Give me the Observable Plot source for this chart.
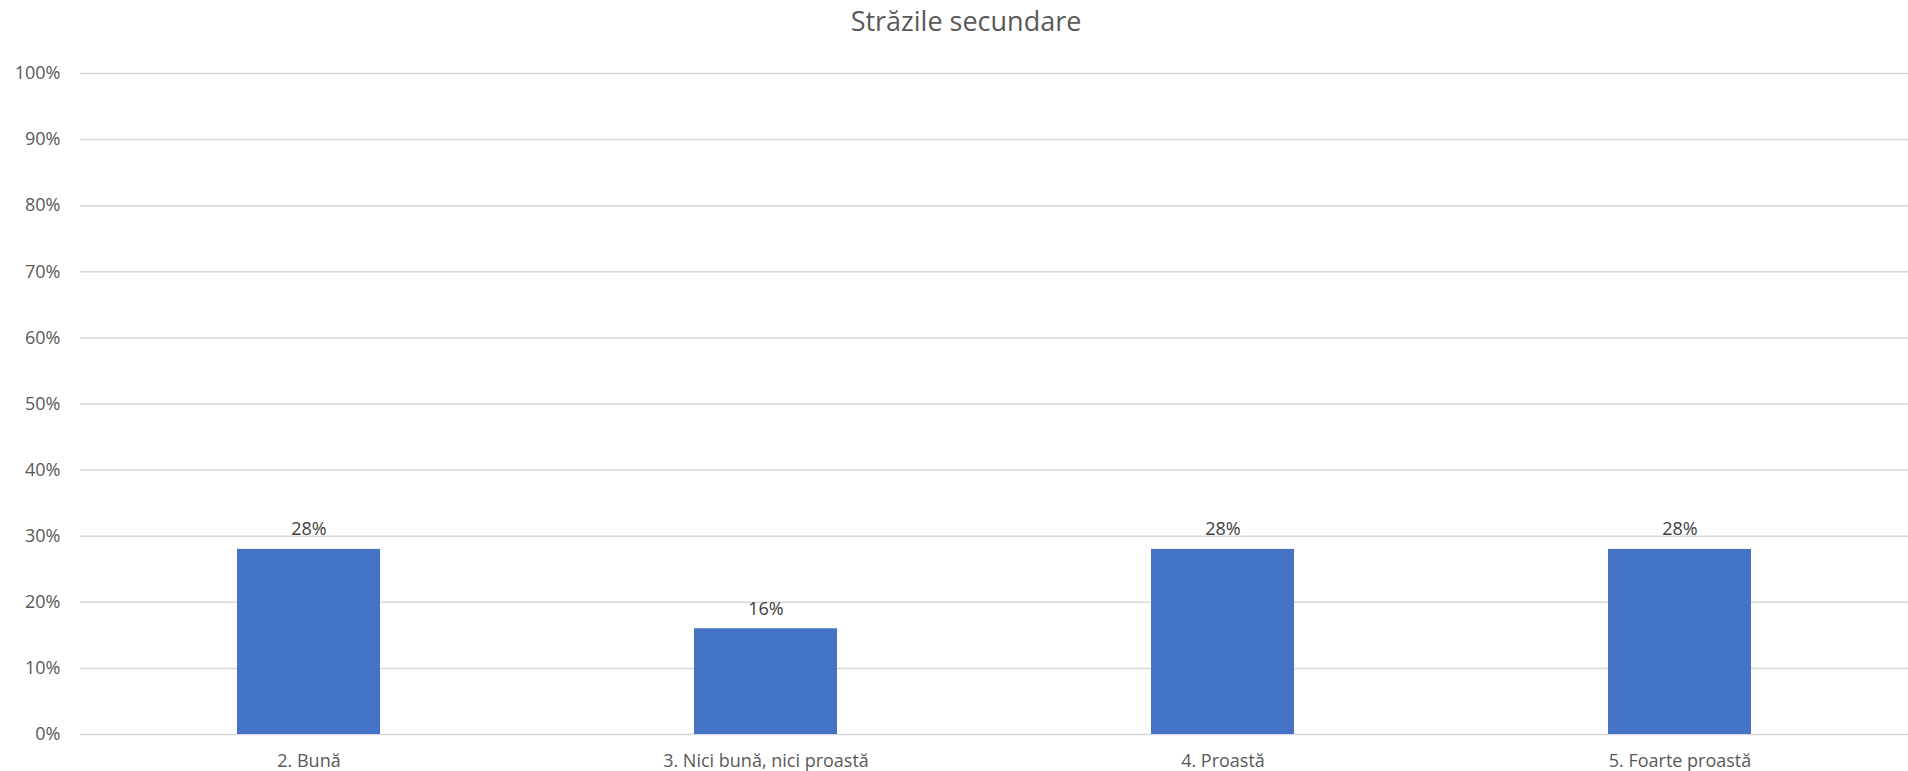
<!DOCTYPE html>
<html>
<head>
<meta charset="utf-8">
<script src="https://cdn.jsdelivr.net/npm/d3@7"></script>
<script src="https://cdn.jsdelivr.net/npm/@observablehq/plot@0.6"></script>
<style>
  html, body { margin: 0; padding: 0; background: #fff; }
  #title { height: 50px; width: 1908px; box-sizing: border-box; padding-left: 24px; text-align: center;
    font-family: "Open Sans", sans-serif; font-size: 27px; color: #595959; line-height: 42px; }
  svg { display: block; }
</style>
</head>
<body>
<div id="title">Străzile secundare</div>
<div id="chart"></div>
<script>
const categories = ["2. Bună", "3. Nici bună, nici proastă", "4. Proastă", "5. Foarte proastă"];
const values = [0.28, 0.16, 0.28, 0.28];
const labels = ["28%", "16%", "28%", "28%"];
const yTicks = [0, 0.1, 0.2, 0.3, 0.4, 0.5, 0.6, 0.7, 0.8, 0.9, 1.0];

const data = categories.map((c, i) => ({category: c, value: values[i], label: labels[i]}));

const chart = Plot.plot({
  width: 1908,
  height: 721,
  marginTop: 23,
  marginBottom: 37,
  marginLeft: 80,
  marginRight: 0,
  style: {fontFamily: "Open Sans, sans-serif", fontSize: "18px", color: "#595959", background: "#fff"},
  x: {domain: categories, paddingInner: 0.687, paddingOuter: 0.3435, label: null},
  y: {domain: [0, 1], label: null},
  marks: [
    Plot.gridY(yTicks, {stroke: "#d9d9d9", strokeOpacity: 1, strokeWidth: 1.5}),
    Plot.axisY({ticks: yTicks, tickFormat: d3.format(".0%"), tickSize: 0, tickPadding: 20, label: null, fontSize: 18, fill: "#595959"}),
    Plot.axisX({tickSize: 0, tickPadding: 20, label: null, fontSize: 18, fill: "#595959"}),
    Plot.barY(data, {x: "category", y: "value", fill: "#4472C4"}),
    Plot.text(data, {x: "category", y: "value", text: "label", lineAnchor: "bottom", dy: -14, fontSize: 18, fill: "#404040"})
  ]
});
document.getElementById("chart").appendChild(chart);
</script>
</body>
</html>
